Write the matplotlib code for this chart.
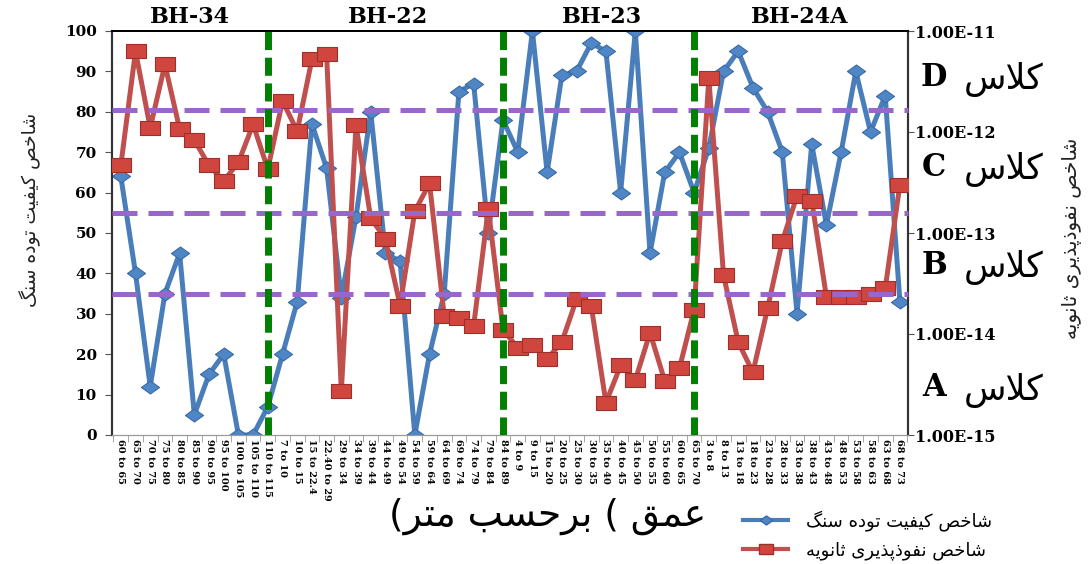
import matplotlib
matplotlib.use("Agg")
import matplotlib.pyplot as plt
import matplotlib.transforms as mtransforms
from matplotlib.lines import Line2D
from matplotlib.ticker import NullLocator
import numpy as np

# depth intervals (m) for each borehole
bh34 = ["60 to 65", "65 to 70", "70 to 75", "75 to 80", "80 to 85", "85 to 90",
        "90 to 95", "95 to 100", "100 to 105", "105 to 110", "110 to 115"]
bh22 = ["7 to 10", "10 to 15", "15 to 22.4", "22.40 to 29", "29 to 34", "34 to 39",
        "39 to 44", "44 to 49", "49 to 54", "54 to 59", "59 to 64", "64 to 69",
        "69 to 74", "74 to 79", "79 to 84", "84 to 89"]
bh23 = ["4 to 9", "9 to 15", "15 to 20", "20 to 25", "25 to 30", "30 to 35",
        "35 to 40", "40 to 45", "45 to 50", "50 to 55", "55 to 60", "60 to 65", "65 to 70"]
bh24a = ["3 to 8", "8 to 13", "13 to 18", "18 to 23", "23 to 28", "28 to 33", "33 to 38",
         "38 to 43", "43 to 48", "48 to 53", "53 to 58", "58 to 63", "63 to 68", "68 to 73"]
boreholes = ["BH-34", "BH-22", "BH-23", "BH-24A"]

# rock mass quality index
rmq = [64, 40, 12, 35, 45, 5, 15, 20, 0, 0, 7,
       20, 33, 77, 66, 34, 54, 80, 45, 43, 0, 20, 35, 85, 87, 50, 78,
       70, 100, 65, 89, 90, 97, 95, 60, 100, 45, 65, 70, 60,
       71, 90, 95, 86, 80, 70, 30, 72, 52, 70, 90, 75, 84, 33]

# secondary permeability index
perm = [4.66e-13, 6.31e-12, 1.10e-12, 4.66e-12, 1.07e-12, 8.32e-13, 4.66e-13,
        3.28e-13, 5.01e-13, 1.19e-12, 4.29e-13,
        2.03e-12, 1.02e-12, 5.25e-12, 5.86e-12, 2.73e-15, 1.16e-12, 1.41e-13,
        8.71e-14, 1.91e-14, 1.64e-13, 3.11e-13, 1.51e-14, 1.45e-14, 1.20e-14,
        1.74e-13, 1.10e-14,
        7.31e-15, 7.80e-15, 5.65e-15, 8.32e-15, 2.21e-14, 1.91e-14, 2.09e-15,
        4.88e-15, 3.50e-15, 1.03e-14, 3.44e-15, 4.57e-15, 1.74e-14,
        3.40e-12, 3.84e-14, 8.32e-15, 4.17e-15, 1.80e-14, 8.32e-14, 2.33e-13,
        2.09e-13, 2.33e-14, 2.33e-14, 2.33e-14, 2.51e-14, 2.83e-14, 3.02e-13]

class_limits = [80.5, 55, 35]
classes = ["D", "C", "B", "A"]
perm_ticks = [1e-15, 1e-14, 1e-13, 1e-12, 1e-11]
perm_ticklabels = ["1.00E-15", "1.00E-14", "1.00E-13", "1.00E-12", "1.00E-11"]

# --- simple Persian shaping (presentation forms, visual order) ---
FORMS = {
    'ا': ('\uFE8D', '\uFE8E', None, None),
    'ب': ('\uFE8F', '\uFE90', '\uFE91', '\uFE92'),
    'پ': ('\uFB56', '\uFB57', '\uFB58', '\uFB59'),
    'ت': ('\uFE95', '\uFE96', '\uFE97', '\uFE98'),
    'ث': ('\uFE99', '\uFE9A', '\uFE9B', '\uFE9C'),
    'ح': ('\uFEA1', '\uFEA2', '\uFEA3', '\uFEA4'),
    'خ': ('\uFEA5', '\uFEA6', '\uFEA7', '\uFEA8'),
    'د': ('\uFEA9', '\uFEAA', None, None),
    'ذ': ('\uFEAB', '\uFEAC', None, None),
    'ر': ('\uFEAD', '\uFEAE', None, None),
    'س': ('\uFEB1', '\uFEB2', '\uFEB3', '\uFEB4'),
    'ش': ('\uFEB5', '\uFEB6', '\uFEB7', '\uFEB8'),
    'ص': ('\uFEB9', '\uFEBA', '\uFEBB', '\uFEBC'),
    'ع': ('\uFEC9', '\uFECA', '\uFECB', '\uFECC'),
    'ف': ('\uFED1', '\uFED2', '\uFED3', '\uFED4'),
    'ق': ('\uFED5', '\uFED6', '\uFED7', '\uFED8'),
    'ک': ('\uFB8E', '\uFB8F', '\uFB90', '\uFB91'),
    'گ': ('\uFB92', '\uFB93', '\uFB94', '\uFB95'),
    'ل': ('\uFEDD', '\uFEDE', '\uFEDF', '\uFEE0'),
    'م': ('\uFEE1', '\uFEE2', '\uFEE3', '\uFEE4'),
    'ن': ('\uFEE5', '\uFEE6', '\uFEE7', '\uFEE8'),
    'ه': ('\uFEE9', '\uFEEA', '\uFEEB', '\uFEEC'),
    'و': ('\uFEED', '\uFEEE', None, None),
    'ی': ('\uFBFC', '\uFBFD', '\uFBFE', '\uFBFF'),
}
LAM_ALEF = ('\uFEFB', '\uFEFC')


def joins_forward(c):
    return c in FORMS and FORMS[c][2] is not None


def fa(text):
    out = []
    i, n = 0, len(text)
    while i < n:
        c = text[i]
        if c not in FORMS:
            out.append(c)
            i += 1
            continue
        linked_prev = i > 0 and joins_forward(text[i - 1])
        if c == 'ل' and i + 1 < n and text[i + 1] == 'ا':
            out.append(LAM_ALEF[1 if linked_prev else 0])
            i += 2
            continue
        linked_next = joins_forward(c) and i + 1 < n and text[i + 1] in FORMS
        iso, fin, ini, med = FORMS[c]
        if linked_prev and linked_next:
            out.append(med)
        elif linked_prev:
            out.append(fin)
        elif linked_next:
            out.append(ini)
        else:
            out.append(iso)
        i += 1
    return ''.join(reversed(out))


rmq_name = fa("شاخص کیفیت توده سنگ")
perm_name = fa("شاخص نفوذپذیری ثانویه")
depth_name = "(" + fa("برحسب متر") + " ( " + fa("عمق")
class_word = fa("کلاس")

plt.rcParams['font.family'] = 'DejaVu Serif'
persian = 'DejaVu Sans'

labels = bh34 + bh22 + bh23 + bh24a
x = np.arange(len(labels))
blue = '#4A7EBB'
red = '#C0504D'

diamond = [(-1, 0), (0, 0.72), (1, 0), (0, -0.72), (-1, 0)]
brick = [(-1, -0.68), (1, -0.68), (1, 0.68), (-1, 0.68), (-1, -0.68)]

fig = plt.figure(figsize=(10.89, 5.64), dpi=100)
ax = fig.add_axes([112 / 1089, 1 - 435 / 564, 796 / 1089, 404 / 564])
ax2 = ax.twinx()

ax.plot(x, rmq, color=blue, lw=3.6, marker=diamond, ms=13,
        mfc='#4F86C6', mec='#3A6BA5', mew=0.8, zorder=3)
ax2.plot(x, perm, color=red, lw=3.6, marker=brick, ms=15,
         mfc='#D0463F', mec='#9E2F2B', mew=0.8, zorder=3)

ax.set_xlim(-0.6, 53.55)
ax.set_ylim(0, 100)
ax2.set_yscale('log')
ax2.set_ylim(1e-15, 1e-11)

# class boundaries and borehole separators
tr = mtransforms.blended_transform_factory(ax2.transAxes, ax.transData)
for v in class_limits:
    ax2.plot([0, 1], [v, v], transform=tr, color='#9966CC', lw=3.6,
             dashes=(5, 2.2), zorder=5, clip_on=False)
ends = np.cumsum([len(bh34), len(bh22), len(bh23)]) - 1
for e in ends:
    ax2.axvline(e, color='#008000', lw=5, dashes=(2.6, 1.1), zorder=6)

# borehole names above each section
starts = [0] + list(ends + 1)
stops = list(ends) + [len(labels) - 1]
for name, s0, s1 in zip(boreholes, starts, stops):
    ax.text((s0 + s1) / 2 - 0.3, 1.035, name, transform=ax.get_xaxis_transform(),
            ha='center', va='center', fontsize=16, fontweight='bold')

ax.set_xticks(x)
ax.set_xticklabels(labels, rotation=-90, fontsize=7, fontweight='bold')
ax.set_xticks(np.arange(-0.5, len(labels), 1), minor=True)
ax.tick_params(axis='x', which='major', length=0, pad=3)
ax.tick_params(axis='x', which='minor', length=5, color='#9a9a9a')

ax.set_yticks(range(0, 101, 10))
ax.tick_params(axis='y', length=5, pad=6, labelsize=11, color='#555555')
for t in ax.get_yticklabels():
    t.set_fontweight('bold')

ax2.set_yticks(perm_ticks)
ax2.set_yticklabels(perm_ticklabels, fontsize=11.5, fontweight='bold')
ax2.yaxis.set_minor_locator(NullLocator())
ax2.tick_params(axis='y', length=4, pad=1, color='#555555')

for a in (ax, ax2):
    a.spines['top'].set_color('black')
    a.spines['top'].set_linewidth(1.3)
    a.spines['bottom'].set_color('#9a9a9a')
    a.spines['left'].set_color('#333333')
    a.spines['right'].set_color('#333333')
    a.spines['left'].set_linewidth(1.5)
    a.spines['right'].set_linewidth(1.5)

# permeability classes beside the right axis
class_y = [77, 167, 265, 388]
for letter, py in zip(classes, class_y):
    yf = 1 - py / 564
    fig.text(934 / 1089, yf, letter, ha='center', va='center',
             fontsize=22, fontweight='bold', family='DejaVu Serif')
    fig.text(1004 / 1089, yf - 0.004, class_word, ha='center', va='center',
             fontsize=25, family=persian)

fig.text(30 / 1089, 1 - 210 / 564, rmq_name, rotation=90, ha='center',
         va='center', fontsize=13.5, family=persian, color='#222222')
fig.text(1072 / 1089, 1 - 238 / 564, perm_name, rotation=90, ha='center',
         va='center', fontsize=14.5, family=persian, color='#222222')
fig.text(548 / 1089, 1 - 516 / 564, depth_name, ha='center', va='center',
         fontsize=27, family=persian)

handles = [
    Line2D([], [], color=blue, lw=3, marker=diamond, ms=9,
           mfc='#4F86C6', mec='#3A6BA5'),
    Line2D([], [], color=red, lw=3, marker=brick, ms=10,
           mfc='#D0463F', mec='#9E2F2B'),
]
fig.legend(handles, [rmq_name, perm_name], loc='upper left',
           bbox_to_anchor=(0.669, 0.122), frameon=False, handlelength=2.5,
           labelspacing=0.6, handletextpad=1.0, borderpad=0.3,
           prop={'family': persian, 'size': 13})

fig.savefig("out.png", dpi=100, facecolor='white')
